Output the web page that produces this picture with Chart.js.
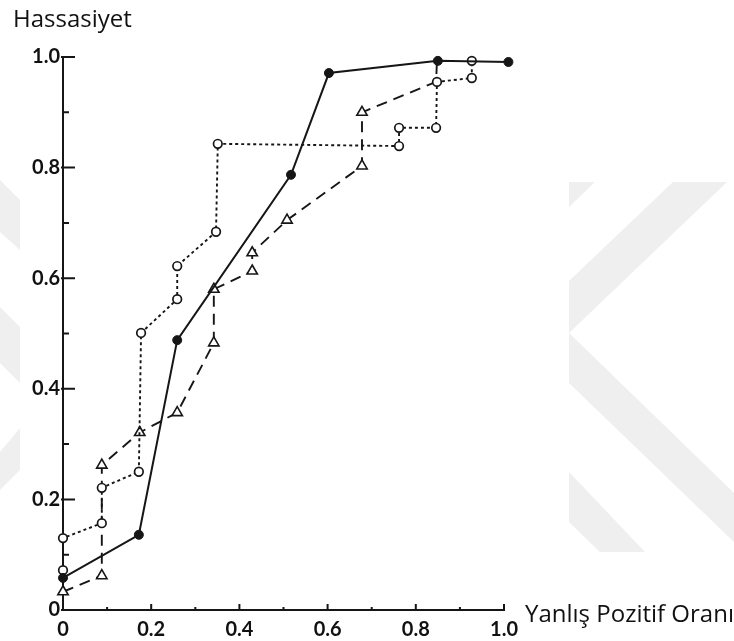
<!DOCTYPE html>
<html>
<head>
<meta charset="utf-8">
<script src="https://cdn.jsdelivr.net/npm/chart.js@4.4.1/dist/chart.umd.min.js"></script>
<style>
  body { margin: 0; background: #fff; }
  #wrap { position: relative; width: 734px; height: 641px; }
  #wm, #roc { position: absolute; left: 0; top: 0; }
</style>
</head>
<body>
<div id="wrap">
  <!-- faint watermark behind the chart -->
  <svg id="wm" width="734" height="641">
    <g fill="#efefef">
      <polygon points="569,182 595,182 569,207"/>
      <polygon points="673,182 727,182 569,333 569,281"/>
      <polygon points="569,333 734,493 734,542 569,383"/>
      <polygon points="569,472 645,552 600,552 569,522"/>
      <polygon points="0,180 20,200 20,250 0,232"/>
      <polygon points="0,307 20,327 20,383 0,363"/>
      <polygon points="0,452 20,428 20,470 0,490"/>
    </g>
  </svg>
  <canvas id="roc" width="734" height="641"></canvas>
</div>
<script>
// ROC curves: false positive rate (x) vs sensitivity (y)
const fprSolid = [0, 0.172, 0.259, 0.517, 0.603, 0.85, 1.01]
const tprSolid = [0.058, 0.136, 0.488, 0.787, 0.971, 0.993, 0.991]

const fprDotted = [0, 0, 0.088, 0.088, 0.172, 0.177, 0.259, 0.259, 0.347, 0.351, 0.762, 0.762, 0.846, 0.848, 0.927, 0.927]
const tprDotted = [0.072, 0.13, 0.157, 0.221, 0.25, 0.501, 0.562, 0.622, 0.684, 0.843, 0.839, 0.872, 0.872, 0.955, 0.962, 0.993]

const fprDashed = [0, 0.088, 0.088, 0.174, 0.259, 0.342, 0.342, 0.429, 0.429, 0.508, 0.678, 0.678, 0.846, 0.848]
const tprDashed = [0.033, 0.062, 0.262, 0.321, 0.357, 0.483, 0.58, 0.613, 0.646, 0.705, 0.803, 0.9, 0.955, 0.993]

const tickValues = [0, 0.2, 0.4, 0.6, 0.8, 1.0]
const yTitle = 'Hassasiyet'
const xTitle = 'Yanlış Pozitif Oranı'

const toPoints = (xs, ys) => xs.map((x, i) => ({ x: x, y: ys[i] }))
const ink = '#161616'
const tickFont = { family: 'Lato, sans-serif', size: 20, weight: 'bold' }

// short tick marks pointing into the plot, every 0.1
const axisTicks = {
  id: 'axisTicks',
  afterDraw(chart) {
    const ctx = chart.ctx
    const xs = chart.scales.x
    const ys = chart.scales.y
    ctx.save()
    ctx.strokeStyle = ink
    ctx.lineWidth = 2
    ctx.beginPath()
    for (let i = 0; i <= 10; i++) {
      const v = i / 10
      const major = i % 2 === 0
      const py = ys.getPixelForValue(v)
      ctx.moveTo(ys.right - (major ? 2 : 0), py)
      ctx.lineTo(ys.right + (major ? 12 : 6), py)
      const px = xs.getPixelForValue(v)
      ctx.moveTo(px, xs.top)
      ctx.lineTo(px, xs.top - (major ? 6 : 3))
    }
    ctx.stroke()
    ctx.restore()
  }
}

const axisTitles = {
  id: 'axisTitles',
  afterDraw(chart) {
    const ctx = chart.ctx
    ctx.save()
    ctx.fillStyle = '#111'
    ctx.font = '24px "Open Sans", sans-serif'
    ctx.textBaseline = 'alphabetic'
    ctx.textAlign = 'left'
    ctx.fillText(yTitle, 13, 27)
    ctx.fillText(xTitle, 525, 622)
    ctx.restore()
  }
}

const fmt = v => (v === 0 ? '0' : v.toFixed(1))

new Chart(document.getElementById('roc'), {
  type: 'scatter',
  data: {
    datasets: [
      {
        label: 'solid',
        data: toPoints(fprSolid, tprSolid),
        showLine: true,
        borderColor: ink,
        borderWidth: 2,
        pointStyle: 'circle',
        pointRadius: 4.5,
        pointBackgroundColor: ink,
        pointBorderColor: ink,
        pointBorderWidth: 1,
        clip: false,
        order: 1
      },
      {
        label: 'dotted',
        data: toPoints(fprDotted, tprDotted),
        showLine: true,
        borderColor: ink,
        borderWidth: 1.9,
        borderDash: [3, 3],
        pointStyle: 'circle',
        pointRadius: 4.3,
        pointBackgroundColor: '#fff',
        pointBorderColor: ink,
        pointBorderWidth: 1.7,
        clip: false,
        order: 2
      },
      {
        label: 'dashed',
        data: toPoints(fprDashed, tprDashed),
        showLine: true,
        borderColor: ink,
        borderWidth: 1.9,
        borderDash: [11, 7],
        pointStyle: 'triangle',
        pointRadius: fprDashed.map((x, i) => (i >= fprDashed.length - 2 ? 0 : 6)),
        pointBackgroundColor: '#fff',
        pointBorderColor: ink,
        pointBorderWidth: 1.6,
        clip: false,
        order: 3
      }
    ]
  },
  options: {
    responsive: false,
    animation: false,
    layout: { padding: { left: 0, right: 230, top: 57, bottom: 0 } },
    plugins: { legend: { display: false }, tooltip: { enabled: false } },
    scales: {
      x: {
        type: 'linear',
        min: 0,
        max: 1,
        afterFit: s => { s.height = 31 },
        afterBuildTicks: s => { s.ticks = tickValues.map(v => ({ value: v })) },
        border: { display: true, color: ink, width: 2 },
        grid: { drawOnChartArea: false, drawTicks: false },
        ticks: { callback: fmt, padding: 8, color: '#111', font: tickFont, maxRotation: 0, autoSkip: false }
      },
      y: {
        type: 'linear',
        min: 0,
        max: 1,
        afterFit: s => { s.width = 63 },
        afterBuildTicks: s => { s.ticks = tickValues.map(v => ({ value: v })) },
        border: { display: true, color: ink, width: 2 },
        grid: { drawOnChartArea: false, drawTicks: false },
        ticks: { callback: fmt, padding: 3, color: '#111', font: tickFont, autoSkip: false }
      }
    }
  },
  plugins: [axisTicks, axisTitles]
})
</script>
</body>
</html>
